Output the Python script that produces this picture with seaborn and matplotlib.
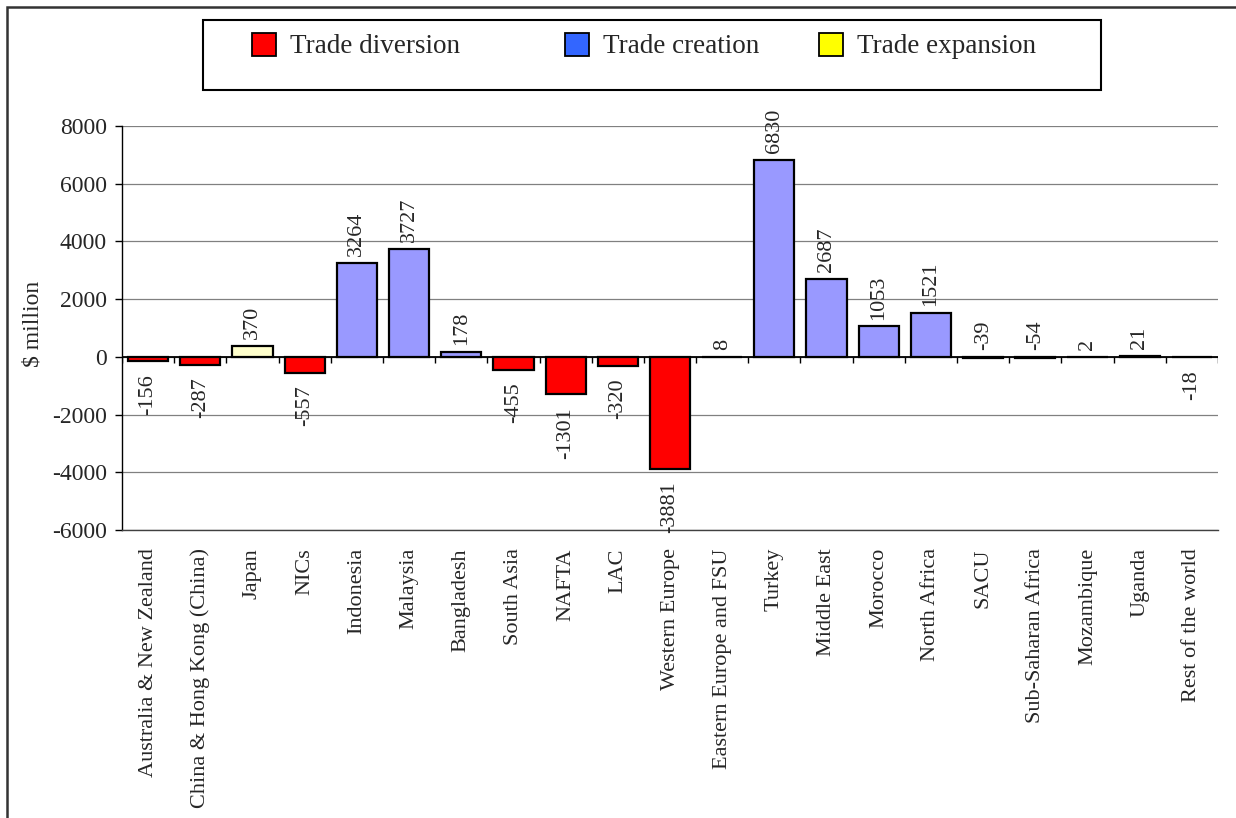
import matplotlib
matplotlib.use("Agg")
import matplotlib.pyplot as plt
from matplotlib.patches import Rectangle, Patch
import seaborn as sns
import pandas as pd

# ---------------- data ----------------
categories = ["Australia & New Zealand", "China & Hong Kong (China)", "Japan", "NICs",
              "Indonesia", "Malaysia", "Bangladesh", "South Asia", "NAFTA", "LAC",
              "Western Europe", "Eastern Europe and FSU", "Turkey", "Middle East",
              "Morocco", "North Africa", "SACU", "Sub-Saharan Africa", "Mozambique",
              "Uganda", "Rest of the world"]
values = [-156, -287, 370, -557, 3264, 3727, 178, -455, -1301, -320,
          -3881, 8, 6830, 2687, 1053, 1521, -39, -54, 2, 21, -18]
effects = ["Trade diversion", "Trade diversion", "Trade expansion", "Trade diversion",
           "Trade creation", "Trade creation", "Trade creation", "Trade diversion",
           "Trade diversion", "Trade diversion", "Trade diversion", "Trade creation",
           "Trade creation", "Trade creation", "Trade creation", "Trade creation",
           "Trade diversion", "Trade diversion", "Trade creation", "Trade creation",
           "Trade diversion"]
legend_labels = ["Trade diversion", "Trade creation", "Trade expansion"]
labels_above_anyway = ["SACU", "Sub-Saharan Africa"]
y_ticks = [-6000, -4000, -2000, 0, 2000, 4000, 6000, 8000]
y_label = "$ million"

bar_colors = {"Trade diversion": "#FF0000", "Trade creation": "#9999FF",
              "Trade expansion": "#FFFFCC"}
legend_colors = {"Trade diversion": "#FF0000", "Trade creation": "#3366FF",
                 "Trade expansion": "#FFFF00"}

df = pd.DataFrame({"region": categories, "value": values, "effect": effects})

# ---------------- style ----------------
sns.set_style("white")
plt.rcParams["font.family"] = ["Liberation Serif", "DejaVu Serif"]

W, H = 1236, 818
fig = plt.figure(figsize=(W / 100, H / 100), dpi=100)
ax = fig.add_axes([122 / W, 1 - 530 / H, 1096 / W, 404 / H])

sns.barplot(data=df, x="region", y="value", hue="effect", order=categories,
            palette=bar_colors, saturation=1, dodge=False, width=0.77,
            edgecolor="black", linewidth=1.6, legend=False, ax=ax, zorder=3)

ymin, ymax = -6000, 8000
ax.set_ylim(ymin, ymax)
ax.set_xlim(-0.5, len(categories) - 0.5)
ax.set_yticks(y_ticks)
ax.set_yticklabels([str(t) for t in y_ticks], fontsize=17)
ax.yaxis.grid(True, color="#808080", linewidth=0.9, zorder=0)
ax.set_axisbelow(True)
ax.tick_params(axis="y", direction="out", length=5, width=1, color="black", pad=6,
               left=True)
ax.tick_params(axis="x", length=0, pad=13)
ax.set_xticks(range(len(categories)))
ax.set_xticklabels(categories, rotation=90, fontsize=16, va="top", ha="center")
ax.set_xlabel("")
ax.set_ylabel(y_label, fontsize=17)
ax.yaxis.set_label_coords(-0.072, 0.51)

for side in ["top", "right"]:
    ax.spines[side].set_visible(False)
ax.spines["left"].set_color("black")
ax.spines["left"].set_linewidth(1.0)
ax.spines["bottom"].set_color("#404040")
ax.spines["bottom"].set_linewidth(1.0)

# category axis at zero with boundary ticks
ax.axhline(0, color="black", linewidth=1.3, zorder=4)
tick_len = 6 / 404 * (ymax - ymin)
bounds = [i - 0.5 for i in range(len(categories) + 1)]
ax.vlines(bounds, -tick_len, 0, color="black", linewidth=1.0, zorder=4)

# value labels
for i, (cat, v) in enumerate(zip(categories, values)):
    above = v > 0 or cat in labels_above_anyway
    ax.annotate(str(v), xy=(i, max(v, 0) if above else min(v, 0)),
                xytext=(0, 5 if above else -9), textcoords="offset points",
                rotation=90, ha="center", va="bottom" if above else "top",
                fontsize=16, zorder=5)

# outer frame
fig.patches.append(Rectangle((7 / W, -0.05), 1.2, 1.05 - 7 / H,
                             transform=fig.transFigure, fill=False,
                             edgecolor="#333333", linewidth=1.8))
# legend frame
fig.patches.append(Rectangle((203 / W, 1 - 90 / H), 898 / W, 70 / H,
                             transform=fig.transFigure, fill=False,
                             edgecolor="black", linewidth=1.5))
legend_x = [252, 565, 819]
for lab, xp in zip(legend_labels, legend_x):
    h = Patch(facecolor=legend_colors[lab], edgecolor="black", linewidth=1.3)
    fig.legend(handles=[h], labels=[lab], loc="center left",
               bbox_to_anchor=(xp / W, 1 - 46 / H), frameon=False,
               borderpad=0, borderaxespad=0, handlelength=0.9,
               handleheight=0.95, handletextpad=0.5, fontsize=19.5)

fig.savefig("out.png", dpi=100)
